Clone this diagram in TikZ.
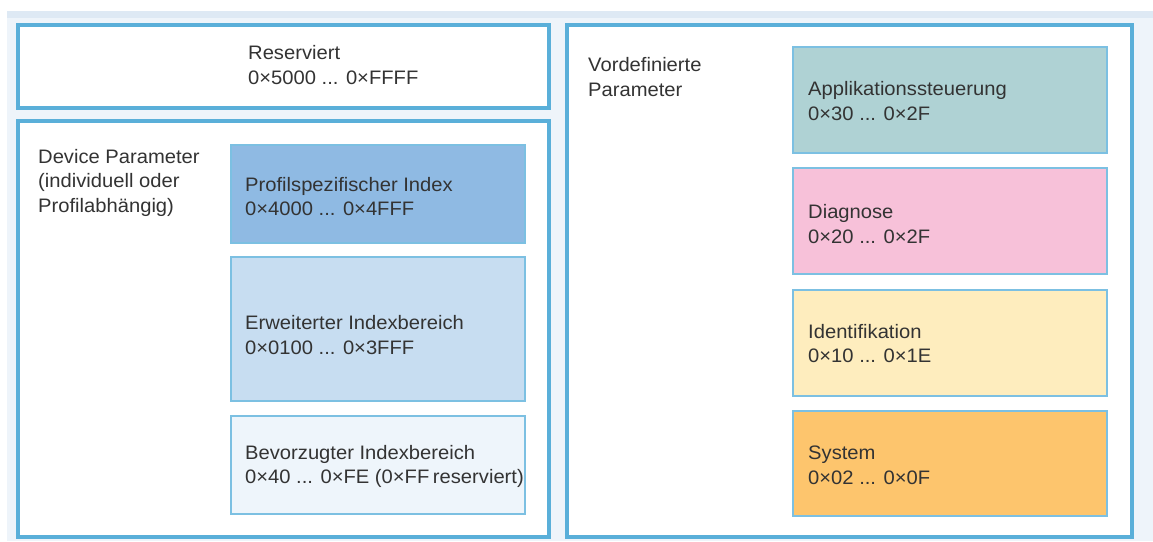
\documentclass[tikz,border=0pt]{standalone}
\usepackage{fontspec}
\setmainfont[FakeStretch=1.035]{Liberation Sans}
\definecolor{bgc}{HTML}{EEF4FA}
\definecolor{stripc}{HTML}{DEE9F4}
\definecolor{framec}{HTML}{5AAFD9}
\definecolor{thinc}{HTML}{7CC0E2}
\definecolor{txtc}{HTML}{333333}
\definecolor{profc}{HTML}{8FBAE3}
\definecolor{erwc}{HTML}{C7DDF1}
\definecolor{bevc}{HTML}{EEF5FB}
\definecolor{applc}{HTML}{AFD2D4}
\definecolor{diagc}{HTML}{F7C1D9}
\definecolor{identc}{HTML}{FEEDBE}
\definecolor{sysc}{HTML}{FDC56D}
\begin{document}
\begin{tikzpicture}[x=1pt,y=-1pt,
  outerbox/.style={rectangle, draw=framec, line width=4pt, fill=white,
    inner sep=0pt, outer sep=0pt, anchor=north west},
  innerbox/.style={rectangle, draw=thinc, line width=1.3pt,
    inner sep=0pt, outer sep=0pt, anchor=north west},
  lbl/.style={anchor=west, align=left, inner sep=0pt, text=txtc,
    font=\fontsize{19.5pt}{24.5pt}\selectfont}]
  \useasboundingbox (0,0) rectangle (1153,541);
  % page background
  \fill[bgc] (7,11) rectangle (1153,541);
  \fill[stripc] (7,11) rectangle (1153,18);

  % outer frames
  \node[outerbox, minimum width=531pt, minimum height=83pt] (res) at (18,25) {};
  \node[outerbox, minimum width=531pt, minimum height=416pt] (dev) at (18,121) {};
  \node[outerbox, minimum width=565pt, minimum height=512pt] (vor) at (567,25) {};

  % device parameter blocks
  \node[innerbox, fill=profc, minimum width=294pt, minimum height=98pt] (prof) at (231,145) {};
  \node[innerbox, fill=erwc, minimum width=294pt, minimum height=144pt] (erw) at (231,257) {};
  \node[innerbox, fill=bevc, minimum width=294pt, minimum height=98pt] (bev) at (231,416) {};

  % predefined parameter blocks
  \node[innerbox, fill=applc, minimum width=314pt, minimum height=106pt] (appl) at (793,47) {};
  \node[innerbox, fill=diagc, minimum width=314pt, minimum height=106pt] (diag) at (793,168) {};
  \node[innerbox, fill=identc, minimum width=314pt, minimum height=106pt] (ident) at (793,290) {};
  \node[innerbox, fill=sysc, minimum width=314pt, minimum height=105pt] (sys) at (793,411) {};

  % labels
  \node[lbl] (tres) at (248,65) {Reserviert\\0×5000 ... 0×FFFF};
  \node[lbl, anchor=north west] (tdev) at (38,149) {Device Parameter\\(individuell oder\\Profilabhängig)};
  \node[lbl] (tprof) at (245,196.5) {Profilspezifischer Index\\0×4000 ... 0×4FFF};
  \node[lbl] (terw) at (245,335) {Erweiterter Indexbereich\\0×0100 ... 0×3FFF};
  \node[lbl] (tbev) at (245,466.5) {Bevorzugter Indexbereich\\0×40 ... 0×FE (0×FF\kern-2pt\ reserviert)};
  \node[lbl] (tvor) at (588,77) {Vordefinierte\\Parameter};
  \node[lbl] (tappl) at (808,101) {Applikationssteuerung\\0×30 ... 0×2F};
  \node[lbl] (tdiag) at (808,224) {Diagnose\\0×20 ... 0×2F};
  \node[lbl] (tident) at (808,343.5) {Identifikation\\0×10 ... 0×1E};
  \node[lbl] (tsys) at (808,465.5) {System\\0×02 ... 0×0F};
\end{tikzpicture}
\end{document}
